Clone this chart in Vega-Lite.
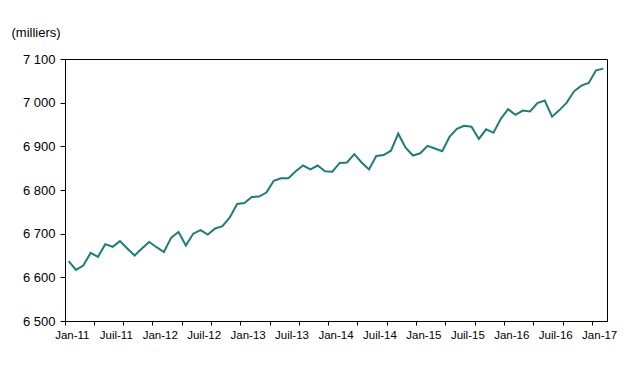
{
  "$schema": "https://vega.github.io/schema/vega-lite/v6.json",
  "width": 542,
  "height": 262,
  "autosize": "none",
  "padding": {"left": 65, "top": 59, "right": 23, "bottom": 55},
  "background": "white",
  "config": {
    "font": "Liberation Sans",
    "view": {"stroke": "black", "strokeWidth": 1}
  },
  "data": {
    "values": [
      {"m": "2011-01", "v": 6637}, {"m": "2011-02", "v": 6617}, {"m": "2011-03", "v": 6627}, {"m": "2011-04", "v": 6656},
      {"m": "2011-05", "v": 6647}, {"m": "2011-06", "v": 6676}, {"m": "2011-07", "v": 6670}, {"m": "2011-08", "v": 6683},
      {"m": "2011-09", "v": 6666}, {"m": "2011-10", "v": 6650}, {"m": "2011-11", "v": 6666}, {"m": "2011-12", "v": 6681},
      {"m": "2012-01", "v": 6669}, {"m": "2012-02", "v": 6658}, {"m": "2012-03", "v": 6691}, {"m": "2012-04", "v": 6704},
      {"m": "2012-05", "v": 6673}, {"m": "2012-06", "v": 6700}, {"m": "2012-07", "v": 6708}, {"m": "2012-08", "v": 6698},
      {"m": "2012-09", "v": 6712}, {"m": "2012-10", "v": 6717}, {"m": "2012-11", "v": 6737}, {"m": "2012-12", "v": 6768},
      {"m": "2013-01", "v": 6770}, {"m": "2013-02", "v": 6784}, {"m": "2013-03", "v": 6785}, {"m": "2013-04", "v": 6794},
      {"m": "2013-05", "v": 6821}, {"m": "2013-06", "v": 6827}, {"m": "2013-07", "v": 6827}, {"m": "2013-08", "v": 6843},
      {"m": "2013-09", "v": 6856}, {"m": "2013-10", "v": 6847}, {"m": "2013-11", "v": 6856}, {"m": "2013-12", "v": 6843},
      {"m": "2014-01", "v": 6842}, {"m": "2014-02", "v": 6862}, {"m": "2014-03", "v": 6863}, {"m": "2014-04", "v": 6882},
      {"m": "2014-05", "v": 6863}, {"m": "2014-06", "v": 6847}, {"m": "2014-07", "v": 6878}, {"m": "2014-08", "v": 6880},
      {"m": "2014-09", "v": 6890}, {"m": "2014-10", "v": 6929}, {"m": "2014-11", "v": 6897}, {"m": "2014-12", "v": 6879},
      {"m": "2015-01", "v": 6884}, {"m": "2015-02", "v": 6901}, {"m": "2015-03", "v": 6895}, {"m": "2015-04", "v": 6889},
      {"m": "2015-05", "v": 6922}, {"m": "2015-06", "v": 6940}, {"m": "2015-07", "v": 6947}, {"m": "2015-08", "v": 6945},
      {"m": "2015-09", "v": 6917}, {"m": "2015-10", "v": 6939}, {"m": "2015-11", "v": 6931}, {"m": "2015-12", "v": 6963},
      {"m": "2016-01", "v": 6985}, {"m": "2016-02", "v": 6972}, {"m": "2016-03", "v": 6982}, {"m": "2016-04", "v": 6980},
      {"m": "2016-05", "v": 6999}, {"m": "2016-06", "v": 7005}, {"m": "2016-07", "v": 6968}, {"m": "2016-08", "v": 6983},
      {"m": "2016-09", "v": 7000}, {"m": "2016-10", "v": 7026}, {"m": "2016-11", "v": 7039}, {"m": "2016-12", "v": 7045},
      {"m": "2017-01", "v": 7074}, {"m": "2017-02", "v": 7078}
    ]
  },
  "mark": {"type": "line", "color": "#1b7e78", "strokeWidth": 2, "strokeJoin": "miter"},
  "encoding": {
    "x": {
      "field": "m",
      "type": "ordinal",
      "sort": null,
      "bandPosition": 0.5,
      "scale": {"type": "band", "paddingInner": 0, "paddingOuter": 0},
      "axis": {
        "title": null,
        "bandPosition": 0,
        "labelAngle": 0,
        "labelOverlap": false,
        "labelOffset": 3.66,
        "labelFontSize": 11.5,
        "labelColor": "black",
        "labelPadding": 4,
        "labelExpr": "substring(datum.value,5,7) == '01' ? 'Jan-' + substring(datum.value,2,4) : (substring(datum.value,5,7) == '07' ? 'Juil-' + substring(datum.value,2,4) : '')",
        "tickSize": 4,
        "tickColor": "black",
        "tickOpacity": {"condition": {"test": "indexof(['01','05','09'], substring(datum.value,5,7)) >= 0", "value": 1}, "value": 0},
        "domainColor": "black",
        "grid": false
      }
    },
    "y": {
      "field": "v",
      "type": "quantitative",
      "scale": {"domain": [6500, 7100], "nice": false, "zero": false},
      "axis": {
        "title": "(milliers)",
        "titleAngle": 0,
        "titleAlign": "left",
        "titleBaseline": "alphabetic",
        "titleX": -54,
        "titleY": -23,
        "titleFontSize": 13,
        "titleFontWeight": "normal",
        "titleColor": "black",
        "values": [6500, 6600, 6700, 6800, 6900, 7000, 7100],
        "labelExpr": "replace(format(datum.value, ','), ',', ' ')",
        "labelFontSize": 13,
        "labelColor": "black",
        "labelPadding": 5,
        "tickSize": 5,
        "tickColor": "black",
        "domainColor": "black",
        "grid": false
      }
    }
  }
}
